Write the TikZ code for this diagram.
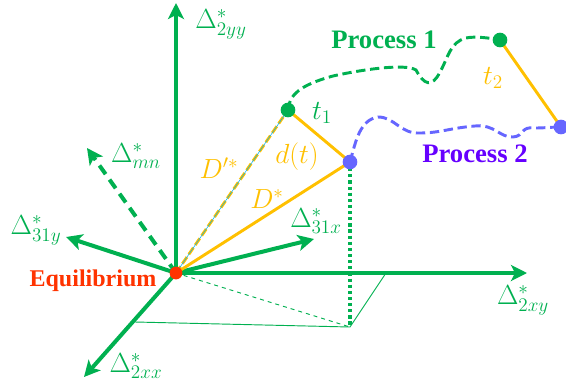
\documentclass[tikz,border=0pt]{standalone}
\usepackage{fontspec}
\setmainfont{Liberation Serif}
\usetikzlibrary{arrows.meta}

\definecolor{axgreen}{RGB}{0,176,80}
\definecolor{dgold}{RGB}{255,192,0}
\definecolor{ptblue}{RGB}{102,102,255}
\definecolor{ptpurple}{RGB}{102,0,255}
\definecolor{eqred}{RGB}{255,51,0}

\tikzset{
  axis/.style={axgreen,line width=3pt,-{Stealth[length=12pt,width=12pt,inset=3pt]}},
  axlabel/.style={axgreen,font=\fontsize{19.5}{22}\selectfont},
  dline/.style={dgold,line width=2.2pt},
  dlabel/.style={dgold,font=\fontsize{21}{24}\selectfont},
  path1/.style={axgreen,line width=2.2pt,dash pattern=on 7pt off 3.5pt},
  path2/.style={ptblue,line width=2.2pt,dash pattern=on 7pt off 3.5pt},
  proc/.style={font=\fontsize{20}{24}\selectfont\bfseries},
}

\begin{document}
\begin{tikzpicture}[x=0.75pt,y=-0.75pt]
    \useasboundingbox (0,0) rectangle (566,389);
    % points
    \coordinate (O) at (176,273);
    \coordinate (yy) at (176,3);
    \coordinate (mn) at (87,148);
    \coordinate (y31) at (66,237);
    \coordinate (xx) at (84,377);
    \coordinate (xy) at (527,273);
    \coordinate (x31) at (314,239);
    \coordinate (A) at (288,110);
    \coordinate (B) at (350,162);
    \coordinate (C) at (500,40);
    \coordinate (E) at (561,127);
    \coordinate (P) at (350,327);
    \coordinate (Px) at (135,322);
    \coordinate (Py) at (386,273);

    % projection
    \draw[axgreen,line width=0.7pt,dashed] (O) -- (P);
    \draw[axgreen,line width=0.7pt] (Px) -- (P) -- (Py);
    \draw[axgreen,line width=2.4pt,dash pattern=on 2.4pt off 2.2pt] (B) -- (P);

    % axes
    \draw[axis] (O) -- (yy);
    \draw[axis,dash pattern=on 8pt off 5pt] (O) -- (mn);
    \draw[axis] (O) -- (y31);
    \draw[axis] (O) -- (xx);
    \draw[axis] (O) -- (xy);
    \draw[axis] (O) -- (x31);

    % distances
    \draw[dline,dash pattern=on 6pt off 2.5pt] (O) -- (A);
    \draw[cyan,line width=0.4pt] (O) -- (A);
    \draw[dline] (O) -- (B) -- (A);
    \draw[dline] (C) -- (E);

    % processes
    \draw[path1] (A) .. controls (289,95) and (300,85) .. (333,76)
      .. controls (360,70) and (405,63) .. (416,70)
      .. controls (424,85) and (432,88) .. (440,72)
      .. controls (448,58) and (450,42) .. (466,38)
      .. controls (475,36) and (490,38) .. (C);
    \draw[path2] (B) .. controls (356,140) and (360,120) .. (378,117)
      .. controls (395,117) and (400,134) .. (420,133)
      .. controls (440,133) and (450,128) .. (475,126)
      .. controls (495,124) and (500,138) .. (513,137)
      .. controls (525,136) and (520,126) .. (535,128)
      .. controls (545,128) and (552,127) .. (E);

    \fill[axgreen] (A) circle (5.5pt) (C) circle (5.5pt);
    \fill[ptblue] (B) circle (5.5pt) (E) circle (5.5pt);
    \fill[eqred] (O) circle (4.8pt);

    % labels
    \node[axlabel] (lyy) at (221,24) {$\Delta^*_{2yy}$};
    \node[axlabel] (lmn) at (136,156) {$\Delta^*_{mn}$};
    \node[axlabel] (ly31) at (36,230) {$\Delta^*_{31y}$};
    \node[axlabel] (lxx) at (136,366) {$\Delta^*_{2xx}$};
    \node[axlabel] (lxy) at (523,300) {$\Delta^*_{2xy}$};
    \node[axlabel] (lx31) at (316,221) {$\Delta^*_{31x}$};
    \node[axgreen,font=\fontsize{22}{26}\selectfont] (lt1) at (322,113) {$t_1$};
    \node[dlabel,font=\fontsize{22}{26}\selectfont] (lt2) at (493,78) {$t_2$};
    \node[dlabel,font=\fontsize{22}{26}\selectfont] (ld) at (297,157) {$d(t)$};
    \node[dlabel] (lDp) at (219,168) {$D'^*$};
    \node[dlabel] (lD) at (267,199) {$D^*$};
    \node[proc,axgreen] (p1) at (384,40) {Process 1};
    \node[proc,ptpurple] (p2) at (475,154) {Process 2};
    \node[eqred,font=\fontsize{18}{22}\selectfont\bfseries] (eq) at (93,281) {Equilibrium};
\end{tikzpicture}
\end{document}
